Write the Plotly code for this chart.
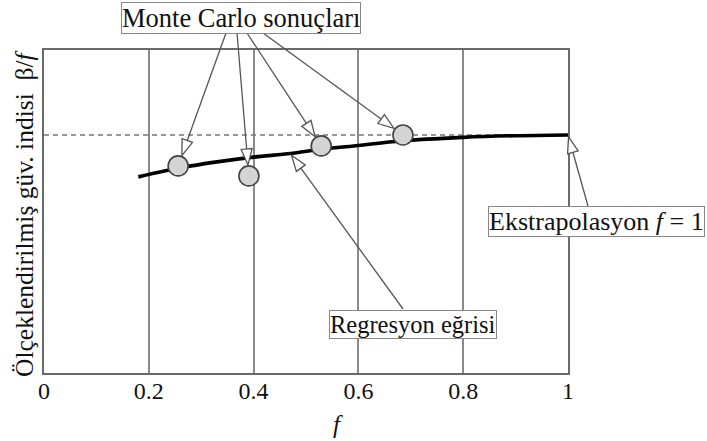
import math
import plotly.graph_objects as go

# Regression curve of the scaled reliability index against f
curve_f = [0.18, 0.26, 0.33, 0.40, 0.47, 0.53, 0.60, 0.68, 0.80, 0.90, 1.00]
curve_beta = [0.824, 0.862, 0.887, 0.907, 0.922, 0.940, 0.956, 0.975, 0.990, 0.997, 1.000]

# Monte Carlo results
mc_f = [0.256, 0.391, 0.529, 0.685]
mc_beta = [0.870, 0.828, 0.954, 1.000]

# Extrapolated value at f = 1
extrap_beta = 1.0

tick_vals = [0, 0.2, 0.4, 0.6, 0.8, 1.0]
tick_text = ["0", "0.2", "0.4", "0.6", "0.8", "1"]

FONT = "Liberation Serif"

W, H = 707, 441
L, R, T, B = 44, 568, 50, 373
XR = (0.0, 1.0)
YR = (0.0, 1.357)
MARKER_D = 20


def to_px(x, y):
    px = L + (x - XR[0]) / (XR[1] - XR[0]) * (R - L)
    py = B - (y - YR[0]) / (YR[1] - YR[0]) * (B - T)
    return px, py


def to_paper(px, py):
    return (px - L) / (R - L), (B - py) / (B - T)


def arrow_shapes(tail, tip, head_len=16, head_half=5.5, color="#555"):
    """Thin line with an open triangular head, given in pixel coordinates."""
    dx, dy = tip[0] - tail[0], tip[1] - tail[1]
    d = math.hypot(dx, dy)
    ux, uy = dx / d, dy / d
    nx, ny = -uy, ux
    bx, by = tip[0] - ux * head_len, tip[1] - uy * head_len
    lx, ly = bx + nx * head_half, by + ny * head_half
    rx, ry = bx - nx * head_half, by - ny * head_half
    x0, y0 = to_paper(*tail)
    x1, y1 = to_paper(bx, by)
    pts = [to_paper(*tip), to_paper(lx, ly), to_paper(rx, ry)]
    path = "M {:.5f},{:.5f} L {:.5f},{:.5f} L {:.5f},{:.5f} Z".format(
        pts[0][0], pts[0][1], pts[1][0], pts[1][1], pts[2][0], pts[2][1])
    return [
        dict(type="line", xref="paper", yref="paper", x0=x0, y0=y0, x1=x1, y1=y1,
             line=dict(color=color, width=1.3)),
        dict(type="path", xref="paper", yref="paper", path=path,
             fillcolor="white", line=dict(color=color, width=1.3)),
    ]


def tip_toward(center, tail, gap):
    dx, dy = tail[0] - center[0], tail[1] - center[1]
    d = math.hypot(dx, dy)
    return center[0] + dx / d * gap, center[1] + dy / d * gap


fig = go.Figure()

# reference level of the extrapolated index
fig.add_trace(go.Scatter(
    x=[XR[0], XR[1]], y=[extrap_beta, extrap_beta], mode="lines",
    line=dict(color="#777", width=1.5, dash="5px,4px"),
    hoverinfo="skip", showlegend=False))

fig.add_trace(go.Scatter(
    x=curve_f, y=curve_beta, mode="lines",
    line=dict(color="#000", width=3.6, shape="spline", smoothing=0.8),
    showlegend=False))

fig.add_trace(go.Scatter(
    x=mc_f, y=mc_beta, mode="markers",
    marker=dict(size=MARKER_D, color="#d4d4d4", line=dict(color="#444", width=1.6)),
    showlegend=False))

shapes = []

# arrows from the Monte Carlo label to each point
mc_tails = [(226, 33), (237, 33), (247, 33), (263, 33)]
for f, b, tail in zip(mc_f, mc_beta, mc_tails):
    c = to_px(f, b)
    shapes += arrow_shapes(tail, tip_toward(c, tail, MARKER_D / 2 + 1))

# arrow to the regression curve
reg_f = 0.47
reg_beta = curve_beta[curve_f.index(reg_f)]
reg_tail = (403, 309)
shapes += arrow_shapes(reg_tail, tip_toward(to_px(reg_f, reg_beta), reg_tail, 2))

# arrow to the extrapolated end point
ext_tail = (588, 206)
shapes += arrow_shapes(ext_tail, tip_toward(to_px(1.0, extrap_beta), ext_tail, 2))

annotations = []


def label(text, cx, cy, size):
    px, py = to_paper(cx, cy)
    annotations.append(dict(
        text=text, x=px, y=py, xref="paper", yref="paper",
        xanchor="center", yanchor="middle", showarrow=False,
        font=dict(family=FONT, size=size, color="#111"),
        bgcolor="white", bordercolor="#888", borderwidth=1, borderpad=0))


label("Monte Carlo sonuçları", 241, 18, 26.5)
label("Regresyon eğrisi", 413, 324, 24.5)
label("Ekstrapolasyon <i>f</i> = 1", 596, 221, 26)

# axis titles
ax, ay = to_paper(24, 213)
annotations.append(dict(
    text="Ölçeklendirilmiş güv. indisi  β/<i>f</i>", x=ax, y=ay,
    xref="paper", yref="paper", xanchor="center", yanchor="middle",
    textangle=-90, showarrow=False, font=dict(family=FONT, size=25.5, color="#111")))
fx, fy = to_paper(338, 424)
annotations.append(dict(
    text="<i>f</i>", x=fx, y=fy, xref="paper", yref="paper",
    xanchor="center", yanchor="middle", showarrow=False,
    font=dict(family=FONT, size=25, color="#111")))

fig.update_layout(
    width=W, height=H,
    margin=dict(l=L, r=W - R, t=T, b=H - B, pad=0),
    paper_bgcolor="white", plot_bgcolor="white",
    font=dict(family=FONT),
    shapes=shapes, annotations=annotations,
    xaxis=dict(range=list(XR), tickvals=tick_vals, ticktext=tick_text,
               showgrid=True, gridcolor="#8a8a8a", gridwidth=2,
               showline=True, linecolor="#6a6a6a", linewidth=2, mirror=True,
               zeroline=False, ticks="", ticklabelstandoff=-5,
               tickfont=dict(family=FONT, size=24, color="#111")),
    yaxis=dict(range=list(YR), showgrid=False, showticklabels=False,
               showline=True, linecolor="#6a6a6a", linewidth=2, mirror=True,
               zeroline=False, ticks=""),
)

fig.write_html("out.html")
